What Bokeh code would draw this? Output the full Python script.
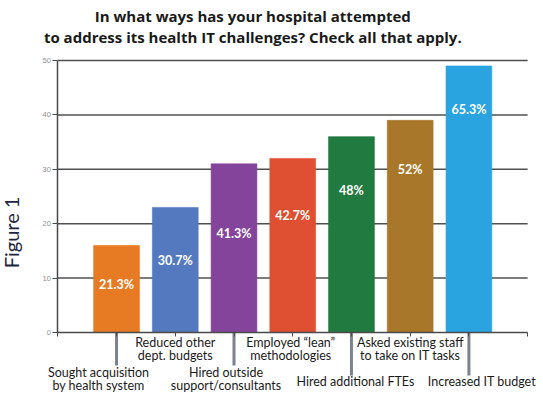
import math
from bokeh.plotting import figure
from bokeh.models import Range1d, LinearAxis, FixedTicker, Label, ColumnDataSource
from bokeh.core.properties import value
from bokeh.embed import file_html
from bokeh.resources import INLINE

# ---- data ----
categories = [
    "Sought acquisition\nby health system",
    "Reduced other\ndept. budgets",
    "Hired outside\nsupport/consultants",
    "Employed \u201clean\u201d\nmethodologies",
    "Hired additional FTEs",
    "Asked existing staff\nto take on IT tasks",
    "Increased IT budget",
]
counts = [16, 23, 31, 32, 36, 39, 49]
pct_labels = ["21.3%", "30.7%", "41.3%", "42.7%", "48%", "52%", "65.3%"]
y_ticks = [0, 10, 20, 30, 40, 50]

# ---- styles / layout ----
bar_colors = ["#e67b23", "#5479be", "#84449b", "#df5033", "#217a40", "#a8772a", "#2aa4e0"]
label_dx = [-18, 0, -8, -2, 4, 0, 13]          # px shift of category label
label_dy = [32, 2, 32, 2, 41, 2, 41]           # px below the axis (text top)
leader_px = [33, 0, 33, 0, 43, 0, 43]          # leader line length
pct_dy = [39, 53, 70, 57, 54, 49, 44]          # px below bar top

n = len(categories)
idx = list(range(1, n + 1))

p = figure(width=543, height=393, output_backend="svg", toolbar_location=None,
           x_range=Range1d(-0.976, 8.27), y_range=Range1d(-11.21, 61.03),
           x_axis_location=None, y_axis_location=None,
           min_border_left=0, min_border_right=0, min_border_top=0, min_border_bottom=0)
p.outline_line_color = None
p.background_fill_color = "white"
p.border_fill_color = "white"
for g in p.grid:
    g.visible = False

# y axis at x=0
yaxis = LinearAxis(fixed_location=0, ticker=FixedTicker(ticks=y_ticks),
                   bounds=(y_ticks[0], y_ticks[-1]),
                   axis_line_color="#4a4a4a", axis_line_width=1.5,
                   major_tick_line_color="#4a4a4a", major_tick_out=5, major_tick_in=0,
                   minor_tick_line_color=None,
                   major_label_text_font_size="7.5px", major_label_text_color="#8f8f8f",
                   major_label_standoff=2)
p.add_layout(yaxis, "left")

# x axis at y=0
xaxis = LinearAxis(fixed_location=0, ticker=FixedTicker(ticks=list(range(0, n + 2))),
                   bounds=(0, n + 1),
                   axis_line_color="#4a4a4a", axis_line_width=1.5,
                   major_tick_line_color="#4a4a4a", major_tick_out=4, major_tick_in=0,
                   minor_tick_line_color=None, major_label_text_color=None)
p.add_layout(xaxis, "below")

# gridlines
p.segment(x0=[0] * (len(y_ticks) - 1), x1=[n + 1] * (len(y_ticks) - 1),
          y0=y_ticks[1:], y1=y_ticks[1:], line_color="#505050", line_width=1.5)

src = ColumnDataSource(dict(x=idx, top=counts, color=bar_colors, cat=categories,
                            pct=pct_labels, dx=label_dx, dy=label_dy,
                            lead=[2 * v for v in leader_px], pdy=pct_dy))
# leader lines (drawn beneath bars)
p.rect(x="x", y=0, width=3, height="lead", width_units="screen", height_units="screen",
       source=src, fill_color="#7c8290", line_color=None)

# bars
p.vbar(x="x", top="top", bottom=0, width=0.78, source=src,
       fill_color="color", line_color="color", line_alpha=0.6)

# percentage labels
p.text(x="x", y="top", text="pct", y_offset="pdy", source=src,
       text_color="white", text_font=value("Lato"), text_font_style="bold",
       text_font_size="12.5px", text_align="center", text_baseline="middle")

# category labels
p.text(x="x", y=0, text="cat", x_offset="dx", y_offset="dy", source=src,
       text_color="#1a1a1a", text_font=value("Lato"), text_font_size="12.5px",
       text_align="center", text_baseline="top", text_line_height=0.9)

# title and figure label
p.add_layout(Label(x=3.32, y=58.27, text="In what ways has your hospital attempted",
                   text_align="center", text_baseline="middle", text_font="Open Sans",
                   text_font_style="bold", text_font_size="15px", text_color="#1a1a1a"))
p.add_layout(Label(x=3.32, y=54.23,
                   text="to address its health IT challenges? Check all that apply.",
                   text_align="center", text_baseline="middle", text_font="Open Sans",
                   text_font_style="bold", text_font_size="15px", text_color="#1a1a1a"))
p.add_layout(Label(x=-0.80, y=18.4, text="Figure 1", angle=math.pi / 2,
                   text_align="center", text_baseline="middle", text_font="Lato",
                   text_font_size="20px", text_color="#1e2540"))

open("out.html", "w").write(file_html(p, INLINE))
